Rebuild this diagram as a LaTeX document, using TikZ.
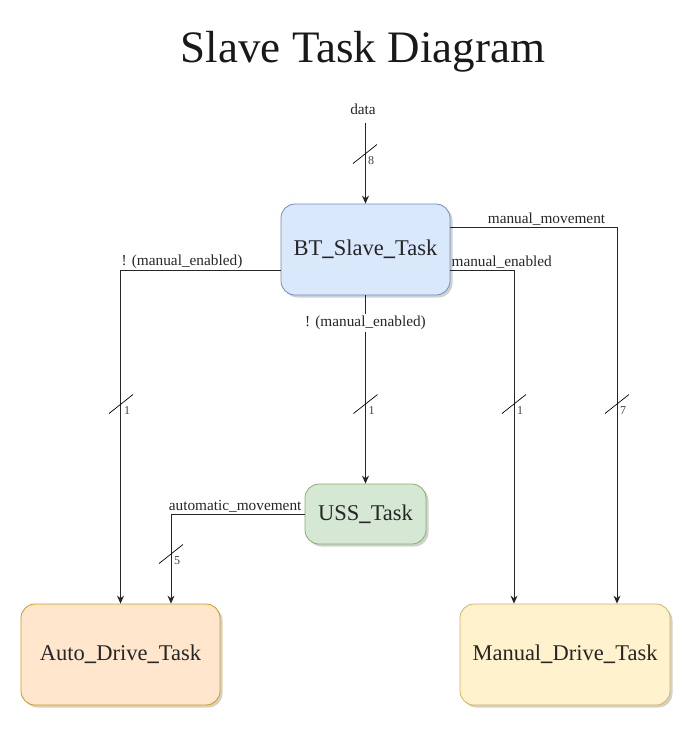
\documentclass[tikz,border=0pt]{standalone}
\usepackage{fontspec}
\setmainfont{Liberation Serif}
\usetikzlibrary{shadows,arrows.meta,calc}
\definecolor{bluef}{HTML}{DAE8FC}\definecolor{blued}{HTML}{6C8EBF}
\definecolor{greenf}{HTML}{D5E8D4}\definecolor{greend}{HTML}{82B366}
\definecolor{orangef}{HTML}{FFE6CC}\definecolor{oranged}{HTML}{D79B00}
\definecolor{yellowf}{HTML}{FFF2CC}\definecolor{yellowd}{HTML}{D6B656}
\newcommand\busmark[3]{\draw[slashline] (#1-12,#2+9.5) -- (#1+12,#2-9.5); \node[num,anchor=west] at (#1+3,#2+7) {#3};}
\newcommand\us{\textbf{\_}}
\begin{document}
\begin{tikzpicture}[x=1pt,y=-1pt,
 task/.style={rectangle, rounded corners=14pt, draw, line width=0.8pt, font=\fontsize{22.5}{26}\selectfont, text=black!85,
   drop shadow={shadow xshift=2.5pt, shadow yshift=-2.5pt, opacity=0.3, fill=black!60}},
 conn/.style={draw=black!85, line width=0.9pt, -{Stealth[length=8pt,width=7pt]}},
 lbl/.style={font=\fontsize{15.3}{17}\selectfont, text=black!85, inner sep=1pt},
 num/.style={font=\fontsize{12}{14}\selectfont, text=black!75, inner sep=0pt},
 slashline/.style={draw=black, line width=0.7pt}]
\useasboundingbox (0,0) rectangle (694,729);
\node[font=\fontsize{45}{50}\selectfont, text=black!90] (title) at (363,52) {Slave Task Diagram};

\node[task, fill=bluef, draw=blued, minimum width=169pt, minimum height=91pt] (BT) at (365.5,249.5) {BT\us Slave\us Task};
\node[task, fill=greenf, draw=greend, minimum width=121pt, minimum height=60pt] (USS) at (365.5,514) {USS\us Task};
\node[task, fill=orangef, draw=oranged, minimum width=199pt, minimum height=101pt] (Auto) at (120.5,654.5) {Auto\us Drive\us Task};
\node[task, fill=yellowf, draw=yellowd, minimum width=210pt, minimum height=101pt] (Man) at (565,654.5) {Manual\us Drive\us Task};

% data input
\coordinate (d0) at (365.5,123);
\node[lbl] (datal) at (363,109) {data};
\draw[conn] (d0) -- (BT.north);
\busmark{365}{154}{8}

% BT -> Auto
\coordinate (bl) at ($(BT.west)+(0,20.5)$);
\draw[conn] (bl) -| (Auto.north);
\node[lbl, anchor=south west] (l1) at (bl -| Auto.north) {! (manual\_enabled)};
\busmark{121}{404}{1}

% BT -> USS
\draw[conn] (BT.south) -- (USS.north);
\node[lbl, fill=white, inner sep=2pt] (l2) at (365.5,323) {! (manual\_enabled)};
\busmark{365.5}{404}{1}

% BT -> Manual (enabled)
\coordinate (br) at ($(BT.east)+(0,20.5)$);
\coordinate (m1) at ($(Man.north)+(-51,0)$);
\draw[conn] (br) -| (m1);
\node[lbl, anchor=south west] (l3) at (br) {manual\_enabled};
\busmark{514}{404}{1}

% BT -> Manual (movement)
\coordinate (bm) at ($(BT.east)+(0,-22.5)$);
\coordinate (m2) at ($(Man.north)+(52,0)$);
\draw[conn] (bm) -| (m2);
\node[lbl, anchor=south] (l4) at (546.5,227) {manual\_movement};
\busmark{617}{404}{7}

% USS -> Auto
\coordinate (a2) at ($(Auto.north)+(50.5,0)$);
\draw[conn] (USS.west) -| (a2);
\node[lbl, anchor=south east] (l5) at ($(USS.west)+(-2,0)$) {automatic\_movement};
\busmark{171}{554}{5}
\end{tikzpicture}
\end{document}
